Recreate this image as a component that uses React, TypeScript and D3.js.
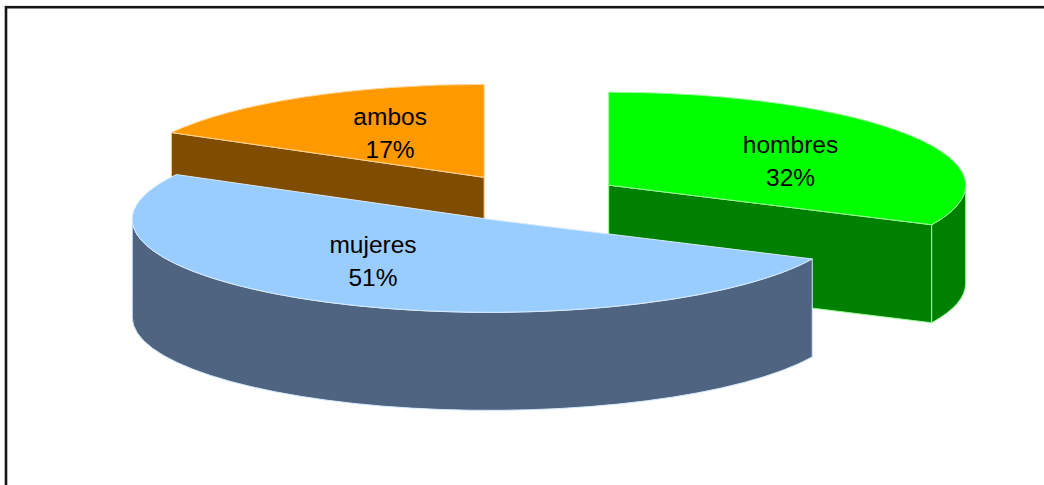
import React from "react";
import * as d3 from "d3";

const categories = ["hombres", "mujeres", "ambos"];
const values = [32, 51, 17];
const percentLabels = ["32%", "51%", "17%"];
const topColors = ["#00FF00", "#99CCFF", "#FF9900"];
const sideColors = ["#008000", "#4E6480", "#7F4C00"];

// layout / style
const W = 1044;
const H = 485;
const CX = 531;
const CY = 198;
const RX = 357;
const RY = 93;
const DEPTH = 98;
const EXPLODE = 92;
const LABEL_FRAC = 0.6;
const labelOffsets: [number, number][] = [
  [1, 6],
  [-19, -8],
  [15, 4],
];

export default function App() {
  const pie = d3
    .pie<number>()
    .sort(null)
    .startAngle(0)
    .endAngle(2 * Math.PI)
    .value((d) => d);
  const arcs = pie(values);

  const pt = (cx: number, cy: number, a: number, dz = 0): [number, number] => [
    cx + RX * Math.sin(a),
    cy - RY * Math.cos(a) + dz,
  ];

  const slices = arcs.map((a, i) => {
    const mid = (a.startAngle + a.endAngle) / 2;
    const cx = CX + EXPLODE * Math.sin(mid);
    const cy = CY - EXPLODE * (RY / RX) * Math.cos(mid);
    return { a, i, mid, cx, cy };
  });

  const order = [...slices].sort((p, q) => p.cy - q.cy);

  const f = (p: [number, number]) => `${p[0].toFixed(2)},${p[1].toFixed(2)}`;

  return (
    <svg
      width={W}
      height={H}
      style={{ position: "absolute", left: 0, top: 0, background: "#fff" }}
    >
      <rect x={6} y={7.2} width={W + 20} height={H + 20} fill="none" stroke="#151515" strokeWidth={2.6} />
      {order.map(({ a, i, cx, cy }) => {
        const a0 = a.startAngle;
        const a1 = a.endAngle;
        const stroke = d3.interpolateRgb(topColors[i], "#ffffff")(0.6);
        const paths: JSX.Element[] = [];
        const c: [number, number] = [cx, cy];
        const cD: [number, number] = [cx, cy + DEPTH];
        // radial faces (visible if facing front)
        const faces = [
          { ang: a0, normal: a0 - Math.PI / 2 },
          { ang: a1, normal: a1 + Math.PI / 2 },
        ];
        faces.forEach((fc, k) => {
          if (Math.cos(fc.normal) < -1e-6) {
            const p = pt(cx, cy, fc.ang);
            const pD = pt(cx, cy, fc.ang, DEPTH);
            paths.push(
              <path
                key={`r${k}`}
                d={`M${f(c)}L${f(p)}L${f(pD)}L${f(cD)}Z`}
                fill={sideColors[i]}
                stroke={stroke}
                strokeWidth={1}
                strokeLinejoin="round"
              />
            );
          }
        });
        // outer curved side
        const s = Math.max(a0, Math.PI / 2);
        const e = Math.min(a1, (3 * Math.PI) / 2);
        if (e > s) {
          const large = e - s > Math.PI ? 1 : 0;
          paths.push(
            <path
              key="o"
              d={`M${f(pt(cx, cy, s))}A${RX},${RY} 0 ${large} 1 ${f(pt(cx, cy, e))}L${f(
                pt(cx, cy, e, DEPTH)
              )}A${RX},${RY} 0 ${large} 0 ${f(pt(cx, cy, s, DEPTH))}Z`}
              fill={sideColors[i]}
              stroke={stroke}
              strokeWidth={1}
            />
          );
        }
        // top face
        const large = a1 - a0 > Math.PI ? 1 : 0;
        paths.push(
          <path
            key="t"
            d={`M${f(c)}L${f(pt(cx, cy, a0))}A${RX},${RY} 0 ${large} 1 ${f(pt(cx, cy, a1))}Z`}
            fill={topColors[i]}
            stroke={stroke}
            strokeWidth={1}
            strokeLinejoin="round"
          />
        );
        return <g key={categories[i]}>{paths}</g>;
      })}
      {slices.map(({ i, mid, cx, cy }) => {
        const lx = cx + LABEL_FRAC * RX * Math.sin(mid) + labelOffsets[i][0];
        const ly = cy - LABEL_FRAC * RY * Math.cos(mid) + labelOffsets[i][1];
        return (
          <text
            key={`l${i}`}
            x={lx}
            textAnchor="middle"
            fontFamily="'Liberation Sans', Arial, sans-serif"
            fontSize={24.5}
            fill="#000"
          >
            <tspan x={lx} y={ly - 8}>
              {categories[i]}
            </tspan>
            <tspan x={lx} y={ly + 25}>
              {percentLabels[i]}
            </tspan>
          </text>
        );
      })}
    </svg>
  );
}
